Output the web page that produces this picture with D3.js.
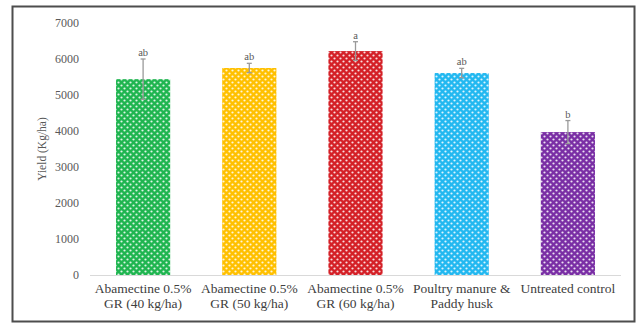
<!DOCTYPE html>
<html>
<head>
<meta charset="utf-8">
<script src="https://cdn.jsdelivr.net/npm/d3@7"></script>
<style>
  html, body { margin: 0; padding: 0; background: #fff; }
  svg { display: block; }
  text { font-family: "Liberation Serif", "Times New Roman", serif; }
</style>
</head>
<body>
<svg id="chart" width="638" height="324"></svg>
<script>
// Treatments and mean yields (Kg/ha) with standard errors and significance letters
const categories = [
  ["Abamectine 0.5%", "GR (40 kg/ha)"],
  ["Abamectine 0.5%", "GR (50 kg/ha)"],
  ["Abamectine 0.5%", "GR (60 kg/ha)"],
  ["Poultry manure &", "Paddy husk"],
  ["Untreated control"]
];
const yieldValues = [5440, 5750, 6220, 5610, 3970];
const errorValues = [560, 130, 260, 130, 320];
const letters = ["ab", "ab", "a", "ab", "b"];
const barColors = ["#1fb550", "#ffc000", "#d42027", "#22b8f0", "#7a2fa5"];
const yTicks = [0, 1000, 2000, 3000, 4000, 5000, 6000, 7000];

const svg = d3.select("#chart");
const W = 638, H = 324;
const margin = { left: 90, right: 17, top: 23, bottom: 49 };

const x = d3.scaleBand()
  .domain(d3.range(categories.length))
  .range([margin.left, W - margin.right])
  .paddingInner(0.49)
  .paddingOuter(0.245);

const y = d3.scaleLinear()
  .domain([0, 7000])
  .range([H - margin.bottom, margin.top]);

// Dotted fill patterns, one per bar colour
const defs = svg.append("defs");
barColors.forEach((c, i) => {
  const p = defs.append("pattern")
    .attr("id", "dots" + i)
    .attr("patternUnits", "userSpaceOnUse")
    .attr("width", 6).attr("height", 6);
  p.append("rect").attr("width", 6).attr("height", 6).attr("fill", c);
  p.append("circle").attr("cx", 1.5).attr("cy", 1.5).attr("r", 1.1).attr("fill", "#fff").attr("opacity", 0.85);
  p.append("circle").attr("cx", 4.5).attr("cy", 4.5).attr("r", 1.1).attr("fill", "#fff").attr("opacity", 0.85);
});

// Outer frame
svg.append("rect")
  .attr("x", 12.5).attr("y", 6.5)
  .attr("width", 622).attr("height", 315)
  .attr("fill", "none")
  .attr("stroke", "#4d4d4d")
  .attr("stroke-width", 2);

// Y axis (labels only)
const yAxis = d3.axisLeft(y).tickValues(yTicks).tickFormat(d3.format("d")).tickSize(0).tickPadding(0);
const gy = svg.append("g")
  .attr("transform", `translate(${margin.left - 11},0)`)
  .call(yAxis);
gy.select(".domain").remove();
gy.selectAll("text")
  .attr("fill", "#595959")
  .style("font-family", "'Liberation Serif', serif")
  .style("font-size", "12px");

// Y axis title
svg.append("text")
  .attr("transform", `translate(42,${y(3500)})rotate(-90)`)
  .attr("text-anchor", "middle")
  .attr("dy", "0.35em")
  .attr("fill", "#595959")
  .style("font-size", "11.5px")
  .text("Yield (Kg/ha)");

// Bars
svg.append("g").selectAll("rect")
  .data(yieldValues)
  .join("rect")
  .attr("x", (d, i) => x(i))
  .attr("width", x.bandwidth())
  .attr("y", d => y(d))
  .attr("height", d => y(0) - y(d))
  .attr("fill", (d, i) => `url(#dots${i})`);

// Baseline
svg.append("line")
  .attr("x1", margin.left).attr("x2", W - margin.right)
  .attr("y1", y(0) + 0.5).attr("y2", y(0) + 0.5)
  .attr("stroke", "#d9d9d9")
  .attr("stroke-width", 1.2);

// Error bars
const eb = svg.append("g").attr("stroke", "#9a9a9a").attr("stroke-width", 1.3);
yieldValues.forEach((v, i) => {
  const cx = x(i) + x.bandwidth() / 2;
  eb.append("line").attr("x1", cx).attr("x2", cx)
    .attr("y1", y(v - errorValues[i])).attr("y2", y(v + errorValues[i]));
  [v - errorValues[i], v + errorValues[i]].forEach(e => {
    eb.append("line").attr("x1", cx - 2.5).attr("x2", cx + 2.5)
      .attr("y1", y(e)).attr("y2", y(e));
  });
});

// Significance letters
svg.append("g").selectAll("text")
  .data(yieldValues)
  .join("text")
  .attr("x", (d, i) => x(i) + x.bandwidth() / 2)
  .attr("y", (d, i) => y(d + errorValues[i]) - 3)
  .attr("text-anchor", "middle")
  .attr("fill", "#595959")
  .style("font-size", "10.5px")
  .text((d, i) => letters[i]);

// Category labels
const xl = svg.append("g");
categories.forEach((lines, i) => {
  const t = xl.append("text")
    .attr("x", x(i) + x.bandwidth() / 2)
    .attr("y", y(0) + 18)
    .attr("text-anchor", "middle")
    .attr("fill", "#404040")
    .style("font-size", "13.5px");
  lines.forEach((s, k) => {
    t.append("tspan")
      .attr("x", x(i) + x.bandwidth() / 2)
      .attr("dy", k === 0 ? 0 : 15)
      .text(s);
  });
});
</script>
</body>
</html>
